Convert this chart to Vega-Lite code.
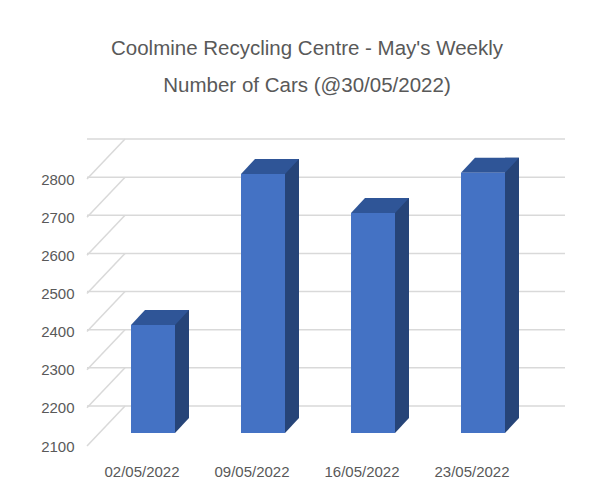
{
  "$schema": "https://vega.github.io/schema/vega-lite/v6.json",
  "autosize": "none",
  "padding": {"left": 87, "top": 179, "right": 84, "bottom": 52},
  "width": 440,
  "height": 267,
  "background": "white",
  "title": {
    "text": ["Coolmine Recycling Centre - May's Weekly", "Number of Cars (@30/05/2022)"],
    "font": "Liberation Sans",
    "fontSize": 20.5,
    "fontWeight": "normal",
    "color": "#595959",
    "lineHeight": 37,
    "anchor": "middle",
    "frame": "group",
    "baseline": "alphabetic",
    "offset": 26
  },
  "datasets": {
    "bars": [
      {"week": "02/05/2022", "cars": 2383},
      {"week": "09/05/2022", "cars": 2779},
      {"week": "16/05/2022", "cars": 2677},
      {"week": "23/05/2022", "cars": 2782}
    ],
    "grid": [
      {"level": 2100}, {"level": 2200}, {"level": 2300}, {"level": 2400},
      {"level": 2500}, {"level": 2600}, {"level": 2700}, {"level": 2800}
    ]
  },
  "layer": [
    {
      "data": {"name": "grid"},
      "mark": {"type": "rule", "color": "#d9d9d9", "strokeWidth": 1.5, "xOffset": 38, "x2Offset": 38, "yOffset": -40},
      "encoding": {
        "y": {
          "field": "level", "type": "quantitative",
          "scale": {"domain": [2100, 2800], "zero": false, "nice": false},
          "axis": {"title": null, "format": "d", "values": [2100, 2200, 2300, 2400, 2500, 2600, 2700, 2800], "grid": false, "ticks": false, "domain": false, "labelPadding": 13, "labelFontSize": 15, "labelColor": "#595959", "labelFont": "Liberation Sans"}
        }
      }
    },
    {
      "data": {"name": "grid"},
      "mark": {"type": "rule", "color": "#d9d9d9", "strokeWidth": 1.5, "y2Offset": -40},
      "encoding": {
        "x": {"value": 0},
        "x2": {"value": 38},
        "y": {
          "field": "level", "type": "quantitative",
          "scale": {"domain": [2100, 2800], "zero": false, "nice": false},
          "axis": {"title": null, "format": "d", "values": [2100, 2200, 2300, 2400, 2500, 2600, 2700, 2800], "grid": false, "ticks": false, "domain": false, "labelPadding": 13, "labelFontSize": 15, "labelColor": "#595959", "labelFont": "Liberation Sans"}
        },
        "y2": {"field": "level"}
      }
    },
    {
      "data": {"name": "bars"},
      "mark": {"type": "bar", "width": 14, "color": "#264478", "xOffset": 40, "yOffset": -28, "y2Offset": -28},
      "encoding": {
        "x": {
          "field": "week", "type": "nominal", "sort": null,
          "scale": {"paddingInner": 0.6, "paddingOuter": 0.3},
          "axis": {"title": null, "labelAngle": 0, "ticks": false, "domain": false, "labelPadding": 18, "labelFontSize": 15, "labelColor": "#595959", "labelFont": "Liberation Sans"}
        },
        "y": {
          "field": "cars", "type": "quantitative",
          "scale": {"domain": [2100, 2800], "zero": false, "nice": false},
          "axis": {"title": null, "format": "d", "values": [2100, 2200, 2300, 2400, 2500, 2600, 2700, 2800], "grid": false, "ticks": false, "domain": false, "labelPadding": 13, "labelFontSize": 15, "labelColor": "#595959", "labelFont": "Liberation Sans"}
        },
        "y2": {"datum": 2100}
      }
    },
    {
      "data": {"name": "bars"},
      "mark": {"type": "point", "filled": true, "opacity": 1, "size": 4, "color": "#264478", "strokeWidth": 0, "shape": "M33,-28L47,-28L33,-13Z"},
      "encoding": {
        "x": {
          "field": "week", "type": "nominal", "sort": null,
          "scale": {"paddingInner": 0.6, "paddingOuter": 0.3},
          "axis": {"title": null, "labelAngle": 0, "ticks": false, "domain": false, "labelPadding": 18, "labelFontSize": 15, "labelColor": "#595959", "labelFont": "Liberation Sans"}
        },
        "y": {
          "datum": 2100, "type": "quantitative",
          "scale": {"domain": [2100, 2800], "zero": false, "nice": false},
          "axis": {"title": null, "format": "d", "values": [2100, 2200, 2300, 2400, 2500, 2600, 2700, 2800], "grid": false, "ticks": false, "domain": false, "labelPadding": 13, "labelFontSize": 15, "labelColor": "#595959", "labelFont": "Liberation Sans"}
        }
      }
    },
    {
      "data": {"name": "bars"},
      "mark": {"type": "point", "filled": true, "opacity": 1, "size": 4, "color": "#2f5597", "strokeWidth": 0, "shape": "M-11,-13L33,-13L47,-28L3,-28Z"},
      "encoding": {
        "x": {
          "field": "week", "type": "nominal", "sort": null,
          "scale": {"paddingInner": 0.6, "paddingOuter": 0.3},
          "axis": {"title": null, "labelAngle": 0, "ticks": false, "domain": false, "labelPadding": 18, "labelFontSize": 15, "labelColor": "#595959", "labelFont": "Liberation Sans"}
        },
        "y": {
          "field": "cars", "type": "quantitative",
          "scale": {"domain": [2100, 2800], "zero": false, "nice": false},
          "axis": {"title": null, "format": "d", "values": [2100, 2200, 2300, 2400, 2500, 2600, 2700, 2800], "grid": false, "ticks": false, "domain": false, "labelPadding": 13, "labelFontSize": 15, "labelColor": "#595959", "labelFont": "Liberation Sans"}
        }
      }
    },
    {
      "data": {"name": "bars"},
      "mark": {"type": "bar", "color": "#4472c4", "xOffset": 11, "yOffset": -13, "y2Offset": -13},
      "encoding": {
        "x": {
          "field": "week", "type": "nominal", "sort": null,
          "scale": {"paddingInner": 0.6, "paddingOuter": 0.3},
          "axis": {"title": null, "labelAngle": 0, "ticks": false, "domain": false, "labelPadding": 18, "labelFontSize": 15, "labelColor": "#595959", "labelFont": "Liberation Sans"}
        },
        "y": {
          "field": "cars", "type": "quantitative",
          "scale": {"domain": [2100, 2800], "zero": false, "nice": false},
          "axis": {"title": null, "format": "d", "values": [2100, 2200, 2300, 2400, 2500, 2600, 2700, 2800], "grid": false, "ticks": false, "domain": false, "labelPadding": 13, "labelFontSize": 15, "labelColor": "#595959", "labelFont": "Liberation Sans"}
        },
        "y2": {"datum": 2100}
      }
    }
  ],
  "config": {
    "font": "Liberation Sans",
    "view": {"stroke": null}
  }
}
